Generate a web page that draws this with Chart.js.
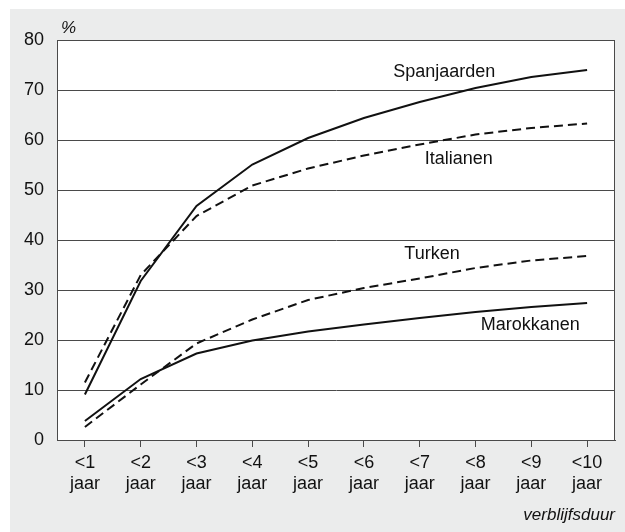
<!DOCTYPE html>
<html lang="nl">
<head>
<meta charset="utf-8">
<title>Verblijfsduur</title>
<script src="https://cdn.jsdelivr.net/npm/chart.js@4"></script>
<style>
  html, body { margin: 0; padding: 0; background: #fff; }
  #wrap { position: relative; width: 625px; height: 532px; }
</style>
</head>
<body>
<div id="wrap"><canvas id="chart" width="625" height="532"></canvas></div>
<script>
// categories (x axis), two-line labels
const years = [['<1', 'jaar'], ['<2', 'jaar'], ['<3', 'jaar'], ['<4', 'jaar'], ['<5', 'jaar'],
               ['<6', 'jaar'], ['<7', 'jaar'], ['<8', 'jaar'], ['<9', 'jaar'], ['<10', 'jaar']];

// percentages
const spanjaarden = [9.1, 31.8, 46.8, 55.1, 60.4, 64.4, 67.6, 70.4, 72.6, 74.0];
const italianen   = [11.5, 33.0, 44.8, 50.9, 54.3, 56.9, 59.1, 61.1, 62.4, 63.3];
const turken      = [2.6, 11.1, 19.3, 24.1, 28.0, 30.4, 32.3, 34.4, 35.9, 36.8];
const marokkanen  = [3.8, 12.2, 17.3, 19.9, 21.7, 23.1, 24.4, 25.6, 26.6, 27.4];

// where each series name sits: [category index, value]
const seriesLabels = [
  { text: 'Spanjaarden', at: [6.44, 73.5] },
  { text: 'Italianen',   at: [6.70, 56.1] },
  { text: 'Turken',      at: [6.22, 37.1] },
  { text: 'Marokkanen',  at: [7.98, 22.9] },
];

const FONT = '"Liberation Sans", Arial, Helvetica, sans-serif';
const INK = '#111';
const GRID = '#4a4a4a';

function line(label, data, dashed) {
  return {
    label: label,
    data: data,
    borderColor: INK,
    borderWidth: 2,
    borderDash: dashed ? [9, 5] : [],
    pointRadius: 0,
    tension: 0,
    fill: false,
  };
}

const backdrop = {
  id: 'backdrop',
  beforeDraw(chart) {
    const ctx = chart.ctx, a = chart.chartArea;
    ctx.save();
    ctx.fillStyle = '#fff';
    ctx.fillRect(0, 0, chart.width, chart.height);
    ctx.fillStyle = '#ebecec';
    ctx.fillRect(10, 9, chart.width - 10, chart.height - 9);
    ctx.fillStyle = '#fff';
    ctx.fillRect(a.left, a.top, a.right - a.left, a.bottom - a.top);
    ctx.restore();
  },
  afterDraw(chart) {
    const ctx = chart.ctx, a = chart.chartArea;
    const x = chart.scales.x, y = chart.scales.y;
    ctx.save();
    // frame
    ctx.strokeStyle = GRID;
    ctx.lineWidth = 1;
    ctx.strokeRect(Math.round(a.left) + 0.5, Math.round(a.top) + 0.5,
                   Math.round(a.right - a.left) - 1, Math.round(a.bottom - a.top));
    // unit
    ctx.fillStyle = INK;
    ctx.font = 'italic 17px ' + FONT;
    ctx.textAlign = 'left';
    ctx.textBaseline = 'middle';
    ctx.fillText('%', a.left + 4, a.top - 12);
    // series names
    ctx.font = '18px ' + FONT;
    ctx.textAlign = 'center';
    seriesLabels.forEach(l => {
      ctx.fillText(l.text, x.getPixelForValue(l.at[0]), y.getPixelForValue(l.at[1]));
    });
    ctx.restore();
  }
};

const config = {
  type: 'line',
  data: {
    labels: years,
    datasets: [
      line('Spanjaarden', spanjaarden, false),
      line('Italianen', italianen, true),
      line('Turken', turken, true),
      line('Marokkanen', marokkanen, false),
    ],
  },
  options: {
    responsive: false,
    devicePixelRatio: 1,
    animation: false,
    layout: { padding: { top: 40, right: 10, bottom: 0, left: 0 } },
    plugins: {
      legend: { display: false },
      tooltip: { enabled: false },
    },
    scales: {
      x: {
        offset: true,
        grid: {
          offset: false,
          drawOnChartArea: false,
          drawTicks: true,
          tickLength: 7,
          color: GRID,
        },
        border: { display: true, color: GRID },
        ticks: {
          color: INK,
          font: { family: FONT, size: 18, lineHeight: 1.15 },
          padding: 6,
          maxRotation: 0,
          autoSkip: false,
        },
        title: {
          display: true,
          text: 'verblijfsduur',
          align: 'end',
          color: INK,
          font: { family: FONT, size: 17, style: 'italic' },
          padding: { top: 0, bottom: 7 },
        },
        afterFit(scale) { scale.height = 92; },
      },
      y: {
        min: 0,
        max: 80,
        ticks: {
          stepSize: 10,
          color: INK,
          padding: 13,
          font: { family: FONT, size: 18 },
        },
        grid: { color: GRID, drawTicks: false },
        border: { display: true, color: GRID },
        afterFit(scale) { scale.width = 57; },
      },
    },
  },
  plugins: [backdrop],
};

new Chart(document.getElementById('chart'), config);
</script>
</body>
</html>
